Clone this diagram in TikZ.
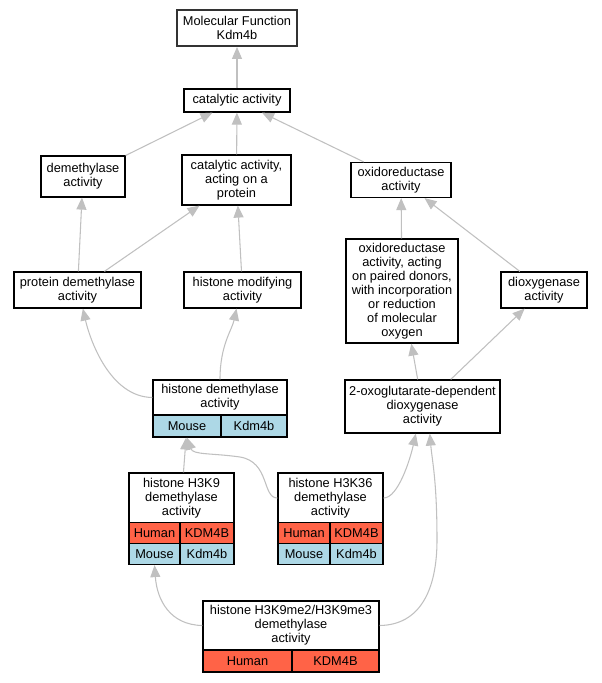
\documentclass[tikz,border=0pt]{standalone}
\usepackage{fontspec}
\setmainfont{Liberation Sans}
\usetikzlibrary{arrows.meta}
\definecolor{human}{HTML}{FF6347}
\definecolor{mouse}{HTML}{ADD8E6}
\definecolor{isagray}{HTML}{C0C0C0}
\tikzset{
  wh/.style 2 args={minimum width=#1*0.75pt, minimum height=#2*0.75pt},
  term/.style={draw, fill=white, line width=0.9pt, inner sep=0pt, align=center,
    font=\fontsize{9.6pt}{10.5pt}\selectfont},
  root/.style={term, draw=black!80, line width=1.4pt},
  hcell/.style={term, fill=human},
  mcell/.style={term, fill=mouse},
  isa/.style={draw=isagray, line width=0.8pt, -{Triangle[length=9pt,width=7.5pt,fill=isagray]}}
}

\begin{document}
\begin{tikzpicture}[x=0.75pt, y=-0.75pt]
  \useasboundingbox (0,0) rectangle (601,683);
  \node[root, wh={120}{36}] (mf) at (237,28) {Molecular Function\\Kdm4b};
  \node[term, wh={106}{23}] (cat) at (237,100.5) {catalytic activity};
  \node[term, wh={84}{41}] (demeth) at (83,176.5) {demethylase\\activity};
  \node[term, wh={109}{50}] (catprot) at (236.5,180) {catalytic activity,\\acting on a\\protein};
  \node[term, wh={100}{35}] (oxido) at (401,180) {oxidoreductase\\activity};
  \node[term, wh={127}{36}] (protdem) at (77.5,290) {protein demethylase\\activity};
  \node[term, wh={117}{36}] (hmod) at (242.5,290) {histone modifying\\activity};
  \node[term, wh={112}{104}] (oxpair) at (402,291) {oxidoreductase\\activity, acting\\on paired donors,\\with incorporation\\or reduction\\of molecular\\oxygen};
  \node[term, wh={86}{36}] (dioxy) at (544,290) {dioxygenase\\activity};
  \node[term, wh={134}{35}] (hdem) at (220,397.5) {histone demethylase\\activity};
  \node[mcell, wh={68}{22}] (hdemm) at (187,426) {Mouse};
  \node[mcell, wh={66}{22}] (hdemk) at (254,426) {Kdm4b};
  \node[term, wh={155}{53}] (oxo) at (422.5,406.5) {2-oxoglutarate-dependent\\dioxygenase\\activity};
  \node[term, wh={105}{50}] (h3k9) at (181.5,498) {histone H3K9\\demethylase\\activity};
  \node[hcell, wh={51}{21}] (h3k9h) at (154.5,533) {Human};
  \node[hcell, wh={54}{21}] (h3k9hk) at (207,533) {KDM4B};
  \node[mcell, wh={51}{21}] (h3k9m) at (154.5,554) {Mouse};
  \node[mcell, wh={54}{21}] (h3k9mk) at (207,554) {Kdm4b};
  \node[term, wh={105}{50}] (h3k36) at (330.5,498) {histone H3K36\\demethylase\\activity};
  \node[hcell, wh={52}{21}] (h3k36h) at (304,533) {Human};
  \node[hcell, wh={53}{21}] (h3k36hk) at (356.5,533) {KDM4B};
  \node[mcell, wh={52}{21}] (h3k36m) at (304,554) {Mouse};
  \node[mcell, wh={53}{21}] (h3k36mk) at (356.5,554) {Kdm4b};
  \node[term, wh={176}{49}] (h3k9me) at (291,625.5) {histone H3K9me2/H3K9me3\\demethylase\\activity};
  \node[hcell, wh={89}{22}] (h3k9meh) at (247.5,661) {Human};
  \node[hcell, wh={87}{22}] (h3k9mek) at (335.5,661) {KDM4B};
  \draw[isa] (cat) -- (mf);
  \draw[isa] (demeth) -- (cat);
  \draw[isa] (catprot) -- (cat);
  \draw[isa] (oxido) -- (cat);
  \draw[isa] (protdem) -- (demeth);
  \draw[isa] (protdem) -- (catprot);
  \draw[isa] (hmod) -- (catprot);
  \draw[isa] (oxpair) -- (oxido);
  \draw[isa] (dioxy) -- (oxido);
  \draw[isa] (oxo) -- (oxpair);
  \draw[isa] (oxo) -- (dioxy);
  \draw[isa] (hdem.west) .. controls (110,397) and (90,340) .. ([xshift=4pt]protdem.south);
  \draw[isa] (hdem.north) .. controls (220,345) and (232,330) .. ([xshift=-4.5pt]hmod.south);
  \draw[isa] (h3k9) -- (hdemm);
  \draw[isa] (h3k36.west) .. controls (262,498) and (270,462) .. (240,457)
    .. controls (212,453) and (193,455) .. (hdemm.south);
  \draw[isa] (h3k36.east) .. controls (398,498) and (410,460) .. ([xshift=-5pt]oxo.south);
  \draw[isa] (h3k9me.west) .. controls (170,625) and (157,600) .. (h3k9m.south);
  \draw[isa] (h3k9me.east) .. controls (420,625) and (437,590) .. (437,540)
    .. controls (437,480) and (432,460) .. ([xshift=5.5pt]oxo.south);
\end{tikzpicture}
\end{document}
